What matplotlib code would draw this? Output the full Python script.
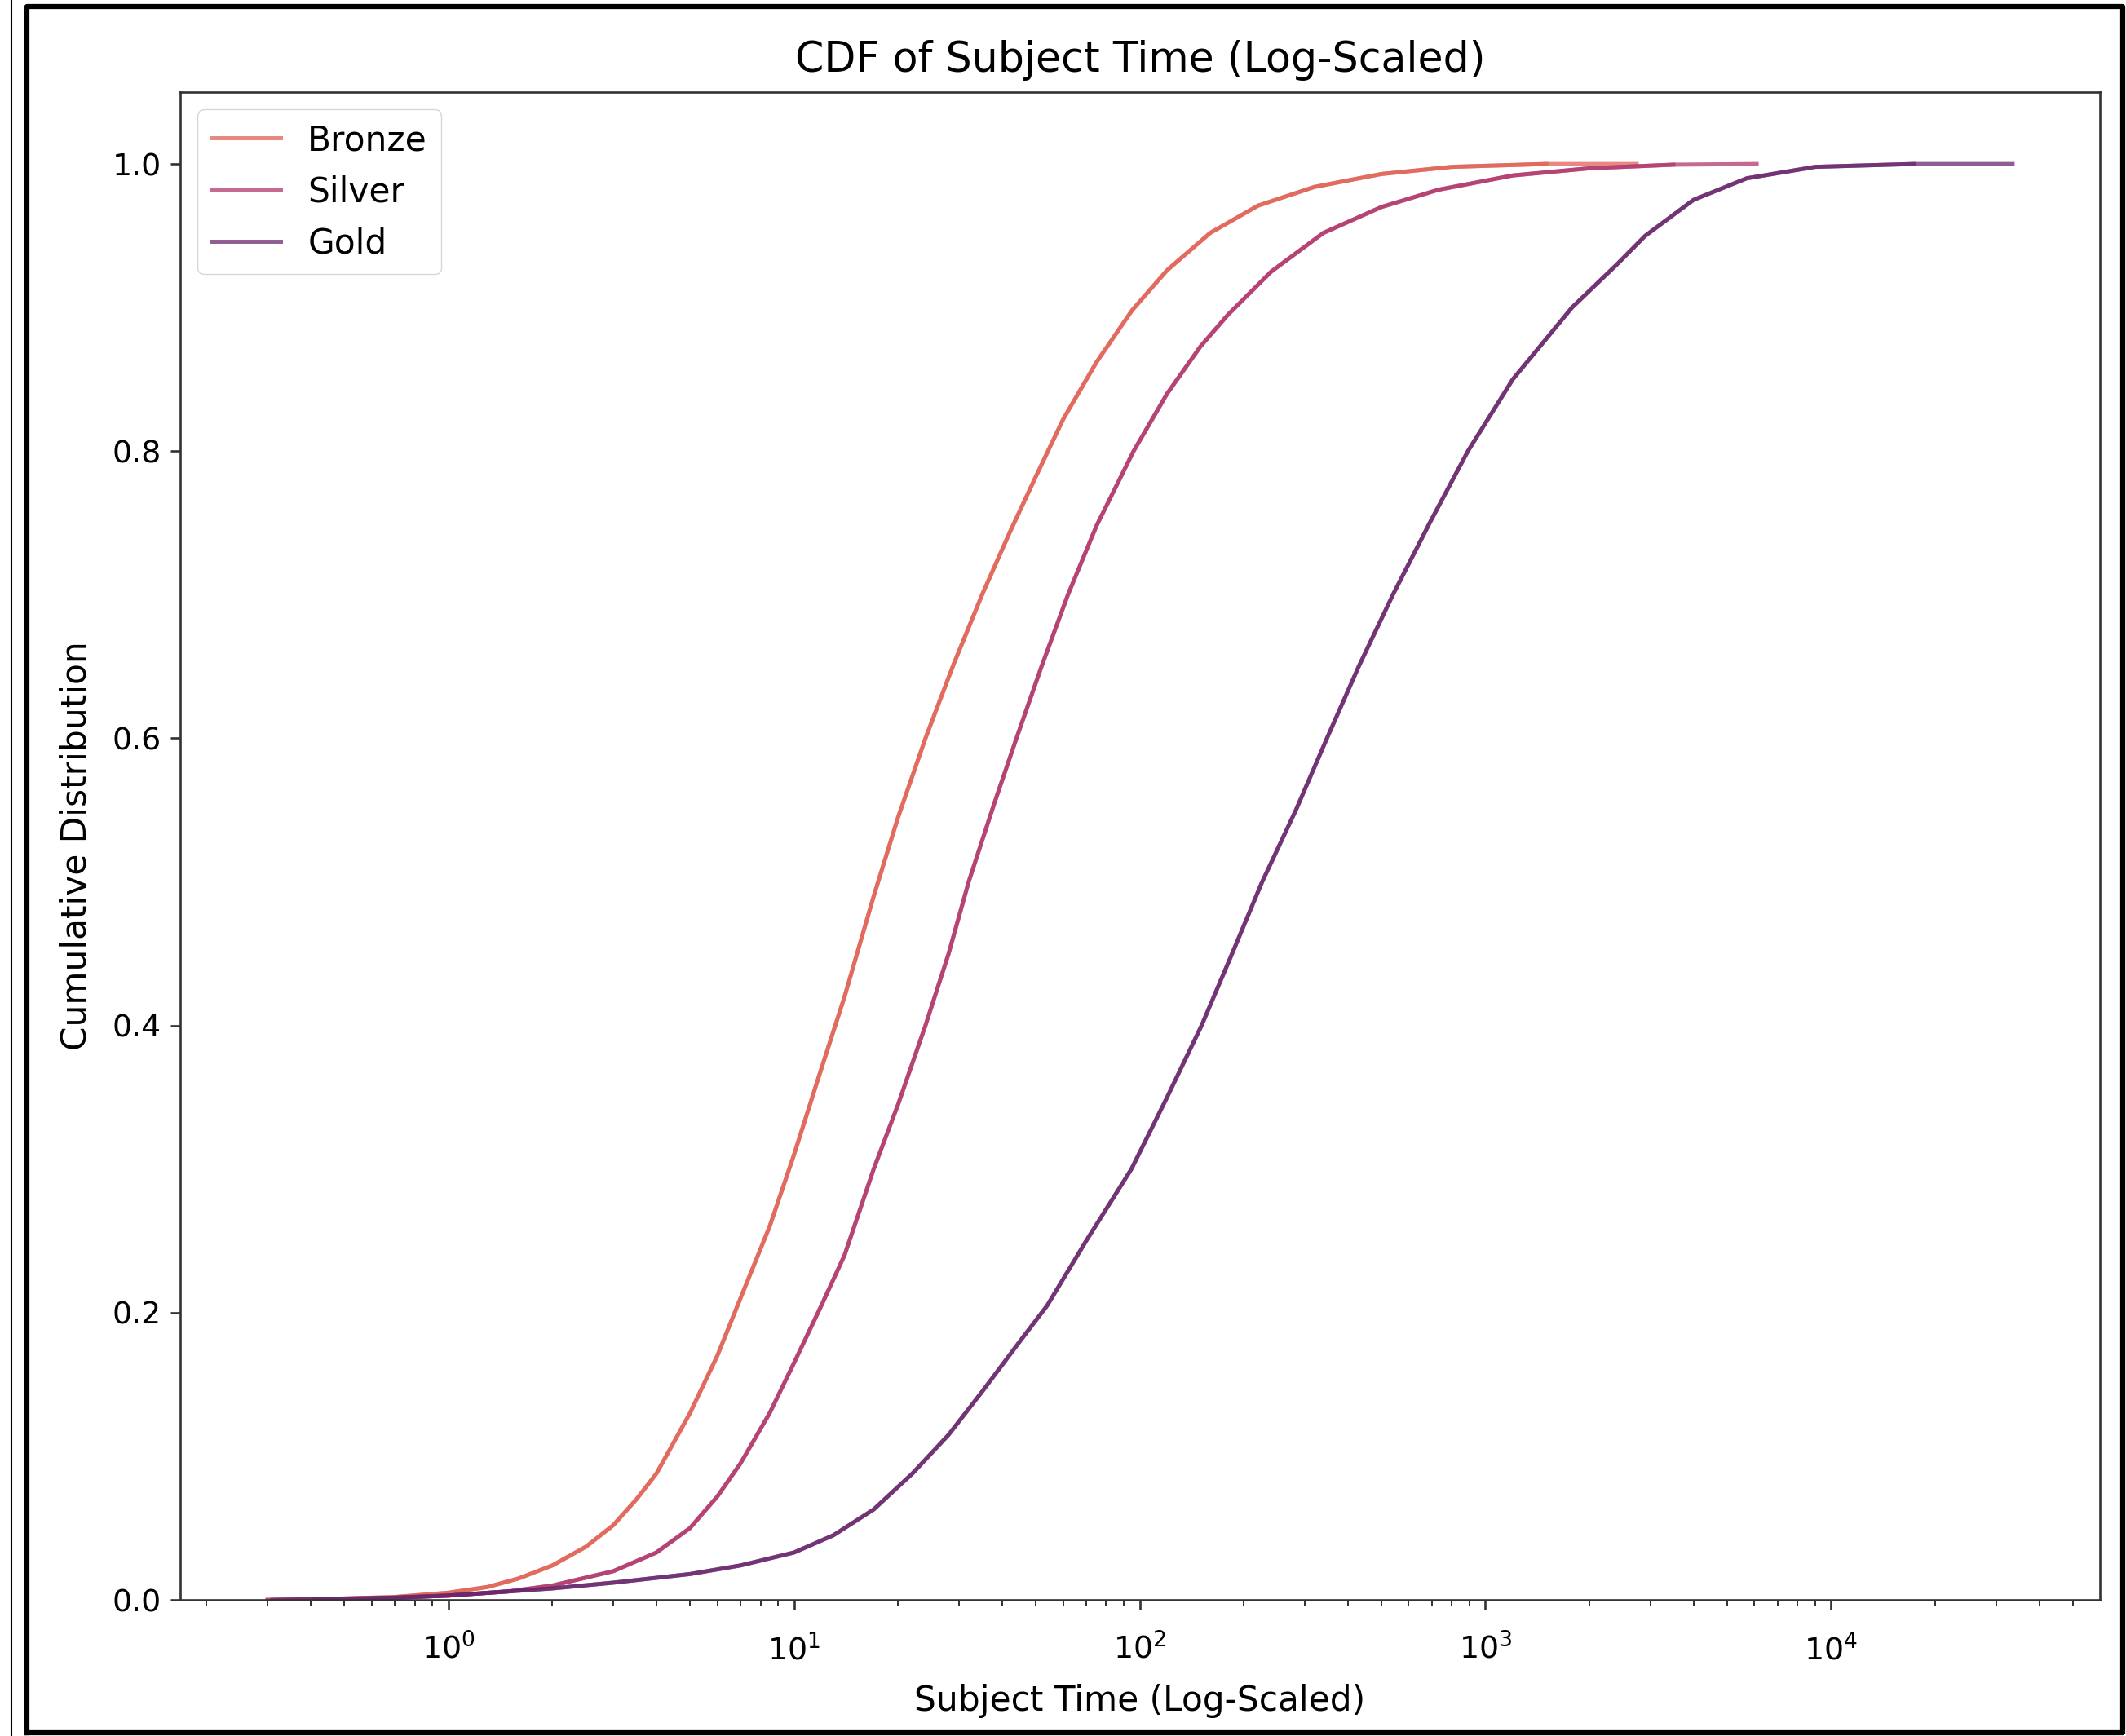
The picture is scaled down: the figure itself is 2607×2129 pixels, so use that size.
import matplotlib
matplotlib.use("Agg")
import matplotlib.pyplot as plt
from matplotlib.lines import Line2D

# CDF values (x = subject time, y = cumulative share)
bronze_x = [0.3, 0.5, 0.7, 1.0, 1.3, 1.6, 2.0, 2.5, 3.0, 3.5, 4.0, 5.0, 6.0,
            7.0, 8.5, 10, 12, 14, 17, 20, 24, 29, 35, 42, 50, 60, 75, 95, 120,
            160, 220, 320, 500, 800, 1500, 2740]
bronze_y = [0.0, 0.001, 0.002, 0.005, 0.009, 0.015, 0.024, 0.037, 0.052, 0.07,
            0.088, 0.13, 0.17, 0.21, 0.26, 0.31, 0.37, 0.42, 0.49, 0.545, 0.6,
            0.652, 0.7, 0.743, 0.782, 0.822, 0.862, 0.898, 0.926, 0.952, 0.971,
            0.984, 0.993, 0.998, 1.0, 1.0]

silver_x = [0.3, 0.6, 1.0, 1.5, 2.0, 3.0, 4.0, 5.0, 6.0, 7.0, 8.5, 10, 12, 14,
            17, 20, 24, 28, 32, 38, 44, 52, 62, 75, 96, 120, 150, 180, 240, 340,
            500, 730, 1200, 2000, 3500, 6090]
silver_y = [0.0, 0.001, 0.003, 0.006, 0.01, 0.02, 0.033, 0.05, 0.072, 0.095,
            0.13, 0.165, 0.205, 0.24, 0.3, 0.345, 0.4, 0.45, 0.5, 0.555, 0.6,
            0.65, 0.7, 0.748, 0.8, 0.84, 0.873, 0.895, 0.925, 0.952, 0.97,
            0.982, 0.992, 0.997, 0.9995, 1.0]

gold_x = [0.31, 0.41, 0.7, 1.0, 2.0, 3.0, 5.0, 7.0, 10, 13, 17, 22, 28, 35, 45,
          54, 70, 94.6, 120, 151, 185, 226, 283, 348, 430, 540, 690, 890, 1200,
          1780, 2400, 2900, 4000, 5700, 9000, 17400, 33500]
gold_y = [0.0, 0.0005, 0.0015, 0.003, 0.008, 0.012, 0.018, 0.024, 0.033, 0.045,
          0.063, 0.088, 0.115, 0.145, 0.18, 0.205, 0.25, 0.3, 0.35, 0.4, 0.45,
          0.5, 0.55, 0.6, 0.65, 0.7, 0.75, 0.8, 0.85, 0.9, 0.93, 0.95, 0.975,
          0.99, 0.998, 1.0, 1.0]

labels = ["Bronze", "Silver", "Gold"]
colors = ["#df6155", "#b1386c", "#69276c"]

S = 2.376   # scale of the upscaled screenshot vs. default matplotlib sizes
F = 1.28    # the screenshot's text runs a bit larger than DejaVu at that scale

plt.rcParams["font.family"] = ["DejaVu Sans"]
plt.rcParams["font.size"] = 10 * S * F

fig = plt.figure(figsize=(26.07, 21.29), dpi=100)
ax = fig.add_axes([0.0848, 0.0784, 0.9877 - 0.0848, 0.9469 - 0.0784])

series = [(bronze_x, bronze_y), (silver_x, silver_y), (gold_x, gold_y)]
for (xs, ys), lab, col in zip(series, labels, colors):
    ax.plot(xs, ys, color=col, lw=1.5 * S, alpha=0.75, label=lab)
    # second pass over the inner part, as in the original overlapping draw
    ax.plot(xs[1:-1], ys[1:-1], color=col, lw=1.5 * S, alpha=0.75)

ax.set_xscale("log")
ax.set_ylim(0, 1.05)
ax.set_title("CDF of Subject Time (Log-Scaled)", fontsize=12 * S * F,
             pad=6 * S + 4)
ax.set_xlabel("Subject Time (Log-Scaled)", labelpad=4 * S + 6)
ax.set_ylabel("Cumulative Distribution", labelpad=4 * S + 7)

for side in ax.spines.values():
    side.set_linewidth(0.8 * S)
    side.set_color("#333333")
ax.tick_params(which="major", length=3.5 * S, width=0.8 * S, pad=3.5 * S,
               color="#333333", labelsize=10 * S * 1.15)
ax.tick_params(axis="x", which="major", pad=3.5 * S + 13)
ax.tick_params(which="minor", length=2 * S, width=0.6 * S, color="#333333")

ax.legend(loc="upper left", fontsize=10 * S * F, borderpad=0.4,
          handlelength=2.0)

# screenshot frame around the figure
fig.add_artist(Line2D([14 / 2607, 14 / 2607], [0, 1], color="black", lw=1.5,
                      transform=fig.transFigure))
fx0, fx1 = 33 / 2607, 2603 / 2607
fy0, fy1 = 1 - 2125 / 2129, 1 - 8 / 2129
fig.add_artist(Line2D([fx0, fx1, fx1, fx0, fx0], [fy0, fy0, fy1, fy1, fy0],
                      color="black", lw=4.5, transform=fig.transFigure))

fig.savefig("out.png", dpi=100)
